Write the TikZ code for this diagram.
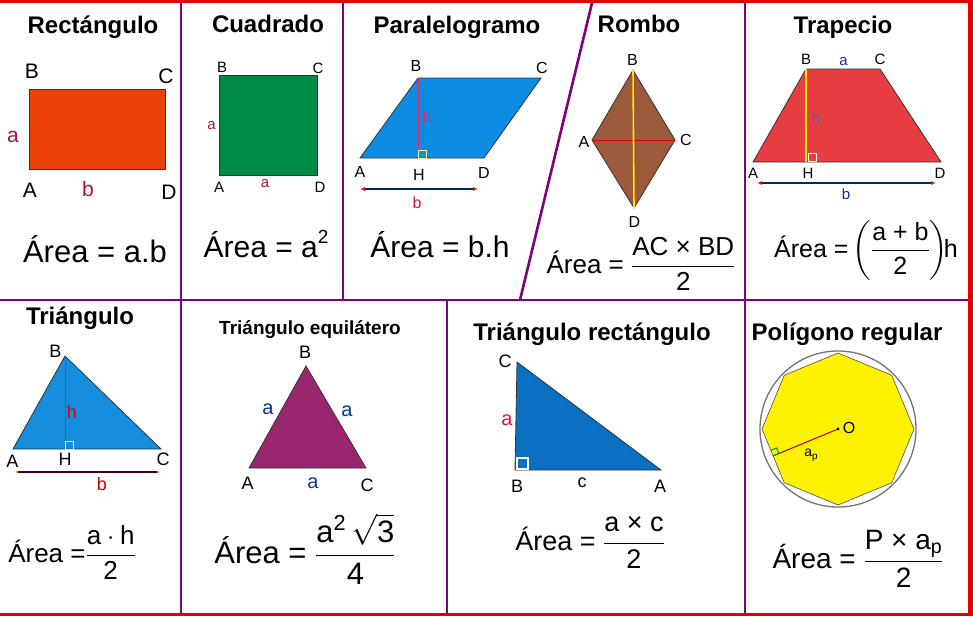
\RequirePackage{fix-cm}
\documentclass[tikz,border=0pt]{standalone}
\usepackage{amsmath}
\usepackage{fontspec}
\setmainfont{Liberation Sans}
\usetikzlibrary{arrows.meta}
\definecolor{Frame}{RGB}{228,0,0}
\definecolor{Divider}{RGB}{128,0,128}
\definecolor{RectFill}{RGB}{234,66,10}
\definecolor{SqFill}{RGB}{0,137,71}
\definecolor{ParFill}{RGB}{12,140,226}
\definecolor{RomFill}{RGB}{156,90,58}
\definecolor{TrapFill}{RGB}{232,62,66}
\definecolor{TriFill}{RGB}{22,142,222}
\definecolor{EqFill}{RGB}{155,38,112}
\definecolor{RtFill}{RGB}{12,112,194}
\definecolor{PolyFill}{RGB}{255,242,0}
\definecolor{Maroon}{RGB}{165,20,60}
\definecolor{Crimson}{RGB}{215,20,60}
\definecolor{Pink}{RGB}{225,40,110}
\definecolor{Navy}{RGB}{10,50,150}
\definecolor{HBlue}{RGB}{80,100,190}

\begin{document}
\begin{tikzpicture}[
    x=1pt, y=-1pt,
    >=Latex,
    title/.style={anchor=base, inner sep=0pt, font=\bfseries\fontsize{24}{24}\selectfont},
    lbl/.style={anchor=base, inner sep=0pt, font=\fontsize{#1}{#1}\selectfont},
    lbl/.default=16,
    area/.style={anchor=base, inner sep=0pt},
    fig/.style={draw=black!80, line width=0.8pt},
    divider/.style={draw=Divider, line width=2.6pt},
    frame/.style={draw=Frame, line width=3pt},
    rangle/.style={line width=1pt},
    dimline/.style={line width=1.5pt, draw=Navy!70!black,
      {Latex[red, length=5pt, width=4pt]}-{Latex[red, length=5pt, width=4pt]}},
  ]
  \useasboundingbox (0,0) rectangle (973,616);
  \fill[white] (0,0) rectangle (973,616);

  % Rectangulo
  \coordinate (rA) at (29,169);
  \coordinate (rC) at (165,89);
  \draw[fig, fill=RectFill] (rA) rectangle (rC);
  \node[title] (t1) at (93,33) {Rectángulo};
  \node[lbl=21] (rlB) at (32,78) {B};
  \node[lbl=21] (rlC) at (166,83) {C};
  \node[lbl=21, text=Maroon] (rla) at (13,142) {a};
  \node[lbl=21] (rlA) at (30,197) {A};
  \node[lbl=21, text=Maroon] (rlb) at (88,196) {b};
  \node[lbl=21] (rlD) at (169,199) {D};
  \node[area, font=\fontsize{31}{31}\selectfont] (f1) at (95,262) {Área = a.b};

  % Cuadrado
  \coordinate (sA) at (219,175);
  \coordinate (sC) at (317,75);
  \draw[fig, fill=SqFill] (sA) rectangle (sC);
  \node[title] (t2) at (268,32) {Cuadrado};
  \node[lbl=15] (slB) at (222,72) {B};
  \node[lbl=15] (slC) at (318,73) {C};
  \node[lbl=15, text=Maroon] (sla) at (211.5,129) {a};
  \node[lbl=15] (slA) at (219,192) {A};
  \node[lbl=15, text=Maroon] (slb) at (265,187) {a};
  \node[lbl=15] (slD) at (320,192) {D};
  \node[area, font=\fontsize{30}{30}\selectfont] (f2) at (266,257)
    {Área = a\raisebox{14pt}{\fontsize{19}{19}\selectfont 2}};

  % Paralelogramo
  \coordinate (pA) at (360,158);
  \coordinate (pB) at (418,78);
  \coordinate (pC) at (541,78);
  \coordinate (pD) at (484,158);
  \coordinate (pH) at (418,158);
  \draw[fig, fill=ParFill] (pA) -- (pB) -- (pC) -- (pD) -- cycle;
  \draw[Pink, line width=0.9pt] (pB) -- (pH);
  \draw[rangle, draw=yellow!50!white] (418,158) rectangle (426,150);
  \node[title] (t3) at (457,33) {Paralelogramo};
  \node[lbl] (plB) at (416,71) {B};
  \node[lbl] (plC) at (542,73) {C};
  \node[lbl] (plA) at (360,177) {A};
  \node[lbl] (plH) at (419,180) {H};
  \node[lbl] (plD) at (484,178) {D};
  \node[lbl, text=Pink] (plh) at (427,123) {h};
  \node[lbl, text=Crimson] (plb) at (417,208) {b};
  \coordinate (pb1) at (360,189);
  \coordinate (pb2) at (478,189);
  \draw[dimline] (pb1) -- (pb2);
  \node[area, font=\fontsize{30}{30}\selectfont] (f3) at (440,257) {Área = b.h};

  % Rombo
  \coordinate (mA) at (592,140);
  \coordinate (mB) at (633,70);
  \coordinate (mC) at (675,140);
  \coordinate (mD) at (634,208);
  \draw[fig, fill=RomFill] (mA) -- (mB) -- (mC) -- (mD) -- cycle;
  \draw[red!85!black, line width=0.8pt] (mA) -- (mC);
  \draw[yellow!90!orange, line width=1.6pt] (mB) -- (mD);
  \node[title] (t4) at (639,32) {Rombo};
  \node[lbl] (mlB) at (632.5,65) {B};
  \node[lbl] (mlA) at (584,147) {A};
  \node[lbl] (mlC) at (686,145) {C};
  \node[lbl] (mlD) at (634.5,227) {D};
  \node[area, font=\fontsize{26}{26}\selectfont] (f4) at (641,273)
    {Área = $\dfrac{\text{AC × BD}}{\text{2}}$};

  % Trapecio
  \coordinate (zA) at (753,162);
  \coordinate (zB) at (806,69);
  \coordinate (zC) at (880,69);
  \coordinate (zD) at (941,162);
  \coordinate (zH) at (806,162);
  \draw[fig, fill=TrapFill] (zA) -- (zB) -- (zC) -- (zD) -- cycle;
  \draw[yellow!90!orange, line width=1.5pt] (zB) -- (zH);
  \draw[rangle, draw=white] (808,161) rectangle (816,153);
  \node[title] (t5) at (843,33) {Trapecio};
  \node[lbl=15] (zlB) at (806,64) {B};
  \node[lbl=15, text=Navy] (zla) at (843.5,65) {a};
  \node[lbl=15] (zlC) at (880,64) {C};
  \node[lbl=15, text=HBlue] (zlh) at (816,123) {h};
  \node[lbl=15] (zlA) at (753,178) {A};
  \node[lbl=15] (zlH) at (808,178) {H};
  \node[lbl=15] (zlD) at (940,178) {D};
  \node[lbl=15, text=Navy] (zlb) at (846,199) {b};
  \coordinate (zb1) at (757,183);
  \coordinate (zb2) at (936,183);
  \draw[dimline] (zb1) -- (zb2);
  \node[area, font=\fontsize{25}{25}\selectfont] (f5) at (866,257)
    {Área =\,$\left(\dfrac{\text{a + b}}{\text{2}}\right)\!$h};

  % Triangulo
  \coordinate (tA) at (13,449);
  \coordinate (tB) at (65,356);
  \coordinate (tC) at (161,449);
  \coordinate (tH) at (65,449);
  \draw[fig, fill=TriFill] (tA) -- (tB) -- (tC) -- cycle;
  \draw[red!80!orange, line width=1pt] (tB) -- (tH);
  \draw[rangle, draw=white!80!cyan] (65,449) rectangle (73,441);
  \node[title] (t6) at (80,324) {Triángulo};
  \node[lbl=18] (tlB) at (55.5,357) {B};
  \node[lbl=18, text=red!85!black] (tlh) at (72,418) {h};
  \node[lbl=18] (tlA) at (12.5,467) {A};
  \node[lbl=18] (tlH) at (65,465) {H};
  \node[lbl=18] (tlC) at (163,465) {C};
  \node[lbl=18, text=red!80!black] (tlb) at (102,490) {b};
  \coordinate (tb1) at (15,472);
  \coordinate (tb2) at (160,472);
  \draw[line width=2.5pt, draw={rgb,255:red,70;green,0;blue,25},
    {Latex[orange, length=3pt, width=3pt]}-{Latex[orange, length=3pt, width=3pt]}] (tb1) -- (tb2);
  \node[area, font=\fontsize{26}{26}\selectfont] (f6) at (72,562)
    {Área =$\dfrac{\text{a}\cdot\text{h}}{\text{2}}$};

  % Triangulo equilatero
  \coordinate (eA) at (249,468);
  \coordinate (eB) at (306,366);
  \coordinate (eC) at (366,468);
  \draw[fig, fill=EqFill] (eA) -- (eB) -- (eC) -- cycle;
  \node[title, font=\bfseries\fontsize{19}{19}\selectfont] (t7) at (310,334) {Triángulo equilátero};
  \node[lbl=18] (elB) at (305,358) {B};
  \node[lbl=20, text=Navy] (ela) at (268,414) {a};
  \node[lbl=20, text=Navy] (elb) at (347,416) {a};
  \node[lbl=18] (elA) at (247.5,489) {A};
  \node[lbl=20, text=Navy] (elc) at (313,488) {a};
  \node[lbl=18] (elC) at (367,491) {C};
  \node[area, font=\fontsize{31}{31}\selectfont] (f7) at (305,563)
    {Área = $\dfrac{\text{a}^{\text{2}}\,\sqrt{\text{3}}}{\text{4}}$};

  % Triangulo rectangulo
  \coordinate (qC) at (517,362);
  \coordinate (qB) at (515,470);
  \coordinate (qA) at (661,470);
  \draw[fig, fill=RtFill] (qA) -- (qB) -- (qC) -- cycle;
  \draw[line width=1.5pt, white] (517,469) rectangle (528,458);
  \node[title] (t8) at (592,340) {Triángulo rectángulo};
  \node[lbl=18] (qlC) at (505,367) {C};
  \node[lbl=20, text=Crimson] (qla) at (507,425) {a};
  \node[lbl=18] (qlB) at (517,492) {B};
  \node[lbl=18] (qlc) at (582,487) {c};
  \node[lbl=18] (qlA) at (660,492) {A};
  \node[area, font=\fontsize{27}{27}\selectfont] (f8) at (590,550)
    {Área = $\dfrac{\text{a × c}}{\text{2}}$};

  % Poligono regular
  \node[circle, draw=black!55, line width=1.3pt, minimum size=156pt, inner sep=0pt] (circ) at (838,429) {};
  \draw[draw=black!70, line width=0.6pt, fill=PolyFill, shift={(838,429)}]
    (0:76) \foreach \k in {1,...,7} { -- (\k*45:76) } -- cycle;
  \coordinate (O) at (838,429);
  \coordinate (ap) at ([shift={(838,429)}]157.5:70);
  \draw[red!70!black, line width=1pt] (O) -- (ap);
  \draw[rangle, draw=green!60!black] (ap) -- ++(337.5:6) -- ++(247.5:6) -- ++(157.5:6);
  \fill (O) circle (1.6);
  \node[lbl] (olO) at (849,433) {O};
  \node[lbl=14] (olap) at (811,456) {a\raisebox{-3pt}{\fontsize{10}{10}\selectfont p}};
  \node[title] (t9) at (847,340) {Polígono regular};
  \node[area, font=\fontsize{28}{28}\selectfont] (f9) at (858,568)
    {Área = $\dfrac{\text{P × a}_{\text{p}}}{\text{2}}$};

  % dividers
  \draw[divider] (0,300) -- (968,300);
  \draw[divider] (181,3) -- (181,614);
  \draw[divider] (343,3) -- (343,300);
  \draw[divider] (592,3) -- (520,300);
  \draw[divider] (745,3) -- (745,614);
  \draw[divider] (447,300) -- (447,614);
  \draw[frame] (0,1.5) -- (970.5,1.5);
  \draw[frame, line width=5pt] (970.5,0) -- (970.5,616);
  \draw[frame] (0,614.5) -- (973,614.5);
\end{tikzpicture}
\end{document}
